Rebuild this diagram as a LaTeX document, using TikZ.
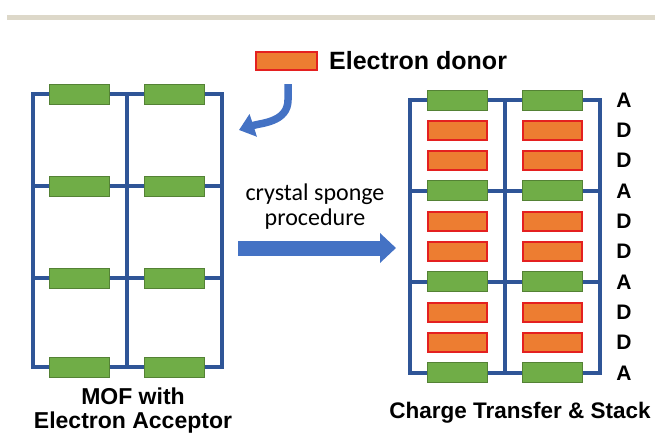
\documentclass[tikz,border=0pt]{standalone}
\usepackage{fontspec}
\setmainfont{Liberation Sans}
\newfontfamily\calibfont{Carlito}
\usepackage{tikz}
\usetikzlibrary{positioning}
\usetikzlibrary{arrows.meta}

\definecolor{framecol}{RGB}{47,85,151}
\definecolor{arrowcol}{RGB}{68,114,196}
\definecolor{accgreen}{RGB}{112,173,71}
\definecolor{accedge}{RGB}{84,130,53}
\definecolor{donorange}{RGB}{237,125,49}
\definecolor{donred}{RGB}{228,32,32}
\definecolor{rulebeige}{RGB}{221,216,201}

\begin{document}
\begin{tikzpicture}[x=1pt, y=-1pt, inner sep=0pt,
            font=\bfseries]

            \tikzstyle{acceptor} = [rectangle, fill=accgreen, draw=accedge, line width=1pt,
                                    minimum width=60pt, minimum height=20pt]
            \tikzstyle{donor} = [rectangle, fill=donorange, draw=donred, line width=2pt,
                                 minimum width=59pt, minimum height=19pt]
            \tikzstyle{link} = [draw=framecol, line width=3.5pt]
            \tikzstyle{letter} = [font=\fontsize{21}{21}\selectfont\bfseries]
            \tikzstyle{fatarrow} = [draw=arrowcol, -{Triangle[length=16pt, width=29pt]}]

            \useasboundingbox (0,0) rectangle (655,436);
            \fill[rulebeige] (7,15) rectangle (655,20);

            % MOF with acceptors only
            \coordinate (mofNW) at (33,94);
            \coordinate (mofSE) at (222,367);
            \draw[link] (mofNW) rectangle (mofSE);
            \draw[link] (127,94) -- (127,367);
            \foreach \y [count=\i] in {94,186,278,367} {
                \draw[link] (33,\y) -- (222,\y);
                \node[acceptor] (mof\i a) at (79.5,\y) {};
                \node[acceptor] (mof\i b) at (174,\y) {};
            }

            % stacked framework
            \coordinate (stkNW) at (410,100);
            \coordinate (stkSE) at (600,373);
            \draw[link] (stkNW) rectangle (stkSE);
            \draw[link] (505,100) -- (505,373);
            \draw[link] (410,191) -- (600,191);
            \draw[link] (410,282) -- (600,282);
            \foreach \i in {0,3,6,9} {
                \node[acceptor] (stk\i a) at (457.5,{100+30.33*\i}) {};
                \node[acceptor] (stk\i b) at (552.5,{100+30.33*\i}) {};
            }
            \foreach \i in {1,2,4,5,7,8} {
                \node[donor] (stk\i a) at (457.5,{100+30.33*\i}) {};
                \node[donor] (stk\i b) at (552.5,{100+30.33*\i}) {};
            }
            \foreach \i/\t in {0/A,1/D,2/D,3/A,4/D,5/D,6/A,7/D,8/D,9/A}
                \node[letter] (lab\i) at (624,{100+30.33*\i}) {\t};

            % legend
            \node[donor, minimum width=61pt, minimum height=17pt] (legend) at (286.5,61) {};
            \node[right=11pt of legend, font=\fontsize{25}{25}\selectfont\bfseries] (legtext) {Electron donor};

            % arrows
            \coordinate (dropstart) at (288,84);
            \coordinate (dropend) at (239,130);
            \draw[fatarrow, line width=7.5pt, -{Triangle[length=15pt, width=23pt]}]
                (dropstart) -- (288,100) to[out=-90, in=18] (dropend);
            \coordinate (mainstart) at (238,248);
            \coordinate (mainend) at (396,248);
            \draw[fatarrow, line width=15pt] (mainstart) -- (mainend);

            \node[font=\calibfont\fontsize{24}{25}\selectfont, align=center] (proc) at (315,207)
                {crystal sponge\\procedure};

            \node[font=\fontsize{23}{24}\selectfont\bfseries, align=center] (moflabel) at (133,411)
                {MOF with\\Electron Acceptor};
            \node[font=\fontsize{22.5}{24}\selectfont\bfseries] (stklabel) at (520,413)
                {Charge Transfer \& Stack};
\end{tikzpicture}
\end{document}
